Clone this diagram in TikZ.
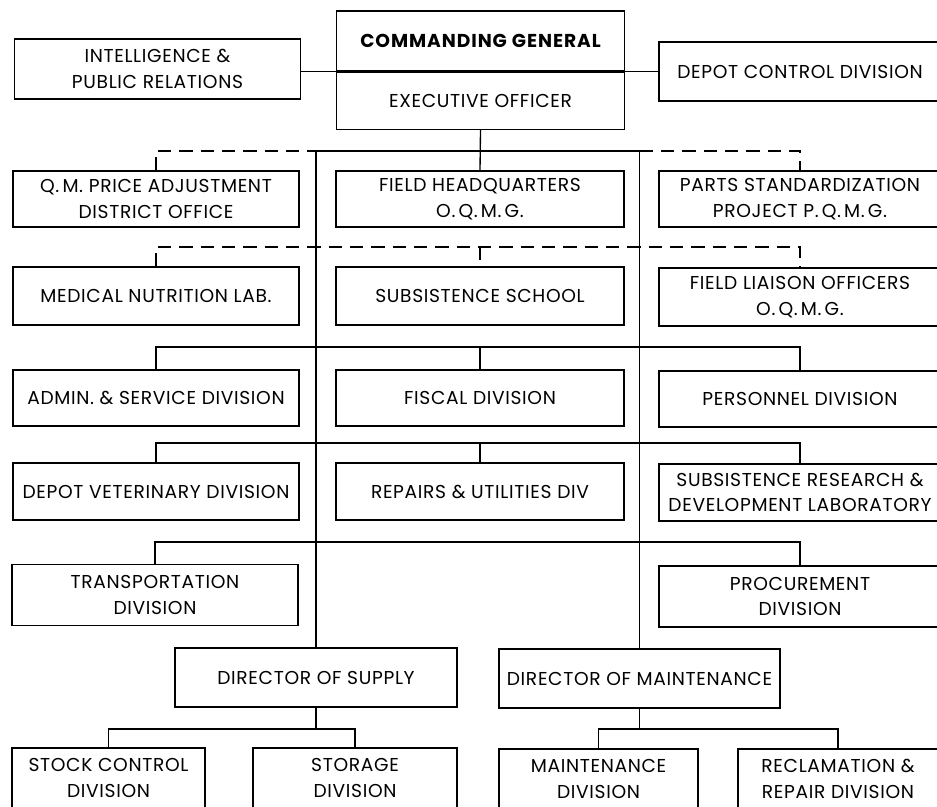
\documentclass[tikz,border=0pt]{standalone}
\usepackage{fontspec}
\setmainfont{Poppins}[LetterSpace=3.5]
\newfontfamily\headfont[LetterSpace=5]{Poppins}
\begin{document}
\begin{tikzpicture}[x=0.75pt, y=-0.75pt,
  box/.style={draw, line width=1pt, inner sep=1pt, align=center,
    font=\fontsize{14}{19}\selectfont},
  leftbox/.style={box, minimum width=286*0.75pt},
  midbox/.style={box, minimum width=288*0.75pt},
  rightbox/.style={box, minimum width=282*0.75pt},
  tall/.style={minimum height=#1*0.75pt},
  link/.style={line width=1pt},
  dashlink/.style={line width=1pt, dash pattern=on 10pt off 6pt}]
  \useasboundingbox (0,0) rectangle (937,806);
  \clip (0,0) rectangle (937,806);

  \node[midbox, tall=60, font=\headfont\bfseries\fontsize{14}{17}\selectfont] (cg) at (480.5,41) {COMMANDING GENERAL};
  \node[midbox, tall=57, anchor=north] (exo) at (cg.south) {EXECUTIVE OFFICER};
  \node[leftbox, tall=60] (intel) at (157.5,69) {INTELLIGENCE \&\\PUBLIC RELATIONS};
  \node[rightbox, tall=59] (dcd) at (800,71.5) {DEPOT CONTROL DIVISION};

  \node[leftbox, tall=56] (qm) at (156,199) {Q.\,M. PRICE ADJUSTMENT\\DISTRICT OFFICE};
  \node[midbox, tall=56] (fhq) at (480,199) {FIELD HEADQUARTERS\\O.\,Q.\,M.\,G.};
  \node[rightbox, tall=56] (parts) at (800,199) {PARTS STANDARDIZATION\\PROJECT P.\,Q.\,M.\,G.};

  \node[leftbox, tall=58] (med) at (156,296) {MEDICAL NUTRITION LAB.};
  \node[midbox, tall=58] (school) at (480,296) {SUBSISTENCE SCHOOL};
  \node[rightbox, tall=58] (liaison) at (800,297) {FIELD LIAISON OFFICERS\\O.\,Q.\,M.\,G.};

  \node[leftbox, tall=56] (admin) at (156,398) {ADMIN. \& SERVICE DIVISION};
  \node[midbox, tall=56] (fiscal) at (480,398) {FISCAL DIVISION};
  \node[rightbox, tall=56] (personnel) at (800,399) {PERSONNEL DIVISION};

  \node[leftbox, tall=57] (vet) at (156,491.5) {DEPOT VETERINARY DIVISION};
  \node[midbox, tall=57] (repairs) at (480,491.5) {REPAIRS \& UTILITIES DIV};
  \node[rightbox, tall=57] (research) at (800,492.5) {SUBSISTENCE RESEARCH \&\\DEVELOPMENT LABORATORY};

  \node[leftbox, tall=61] (transport) at (155,595) {TRANSPORTATION\\DIVISION};
  \node[rightbox, tall=61] (procure) at (800,596.5) {PROCUREMENT\\DIVISION};

  \node[box, minimum width=282*0.75pt, tall=59] (supply) at (316,677.5) {DIRECTOR OF SUPPLY};
  \node[box, minimum width=281*0.75pt, tall=59] (maint) at (639.5,678.5) {DIRECTOR OF MAINTENANCE};

  \node[box, minimum width=193*0.75pt, tall=60] (stock) at (108.5,778) {STOCK CONTROL\\DIVISION};
  \node[box, minimum width=204*0.75pt, tall=60] (storage) at (355,778) {STORAGE\\DIVISION};
  \node[box, minimum width=199*0.75pt, tall=60] (maintdiv) at (598.5,779) {MAINTENANCE\\DIVISION};
  \node[box, minimum width=200*0.75pt, tall=60] (reclaim) at (838,779) {RECLAMATION \&\\REPAIR DIVISION};

  \draw[link] (intel.east |- cg.south) -- (cg.south west);
  \draw[link] (exo.north east) -- (exo.north east -| dcd.west);

  \coordinate (bus) at (480,151);
  \draw[link] (exo.south) -- (fhq.north);
  \draw[link] (supply.north) -- (supply.north |- bus) -- (maint.north |- bus) -- (maint.north);
  \draw[dashlink] (qm.north) -- (qm.north |- bus) -- (supply.north |- bus);
  \draw[dashlink] (maint.north |- bus) -- (parts.north |- bus) -- (parts.north);

  \coordinate (busb) at (480,247);
  \draw[dashlink] (med.north) -- (med.north |- busb) -- (liaison.north |- busb) -- (liaison.north);
  \draw[dashlink] (school.north |- busb) -- (school.north);

  \coordinate (busc) at (480,347);
  \draw[link] (admin.north) -- (admin.north |- busc) -- (personnel.north |- busc) -- (personnel.north);
  \draw[link] (fiscal.north |- busc) -- (fiscal.north);

  \coordinate (busd) at (480,443);
  \draw[link] (vet.north) -- (vet.north |- busd) -- (research.north |- busd) -- (research.north);
  \draw[link] (repairs.north |- busd) -- (repairs.north);

  \coordinate (buse) at (480,542);
  \draw[link] (transport.north) -- (transport.north |- buse) -- (procure.north |- buse) -- (procure.north);

  \coordinate (busf) at (316,729);
  \draw[link] (supply.south) -- (supply.south |- busf);
  \draw[link] (stock.north) -- (stock.north |- busf) -- (storage.north |- busf) -- (storage.north);

  \coordinate (busg) at (640,729);
  \draw[link] (maint.south) -- (maint.south |- busg);
  \draw[link] (maintdiv.north) -- (maintdiv.north |- busg) -- (reclaim.north |- busg) -- (reclaim.north);
\end{tikzpicture}
\end{document}
